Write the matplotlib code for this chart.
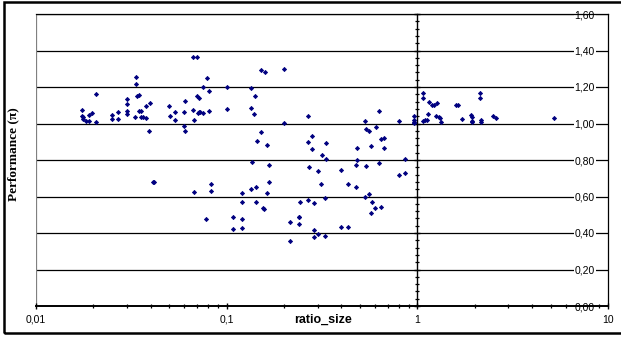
import matplotlib
matplotlib.use("Agg")
import matplotlib.pyplot as plt
from matplotlib.patches import Rectangle
from matplotlib.ticker import FixedLocator, FuncFormatter, LogLocator, NullFormatter

plt.rcParams["font.family"] = ["Liberation Sans", "DejaVu Sans"]

# ratio_size (x, log scale) and performance (pi) values
ratio_size = [
    0.0174, 0.0174, 0.0177, 0.0176, 0.0182, 0.0189, 0.0189, 0.0197, 0.0207, 0.0207,
    0.0249, 0.0251, 0.0269, 0.0269, 0.0299, 0.0300, 0.0300, 0.0299, 0.0335, 0.0335,
    0.0338, 0.0349, 0.0332, 0.0349, 0.0357, 0.0357, 0.0363, 0.0378, 0.0378, 0.0397,
    0.0393, 0.0501, 0.0505, 0.0539, 0.0539, 0.0598, 0.0603, 0.0598, 0.0603, 0.0669,
    0.0675, 0.0665, 0.0698, 0.0698, 0.0714, 0.0714, 0.0726, 0.0755, 0.0705, 0.0755,
    0.0787, 0.0812, 0.0812, 0.1002, 0.1002, 0.0415, 0.0412, 0.0829, 0.0673, 0.0829,
    0.0780,
    0.134, 0.134, 0.141, 0.139, 0.151, 0.159, 0.151, 0.144, 0.163, 0.135,
    0.167, 0.200, 0.200, 0.268, 0.266, 0.279, 0.279, 0.270,
    0.121, 0.120, 0.142, 0.134, 0.142, 0.163, 0.167, 0.155, 0.157, 0.108,
    0.120, 0.108, 0.121, 0.215, 0.241, 0.239, 0.240, 0.239, 0.268, 0.286,
    0.215, 0.286, 0.286, 0.302, 0.300,
    0.632, 0.533, 0.604, 0.538, 0.560, 0.333, 0.316, 0.333, 0.484, 0.569,
    0.647, 0.665, 0.665, 0.484, 0.478, 0.538, 0.626, 0.400, 0.313, 0.433,
    0.477, 0.533, 0.560, 0.326, 0.578, 0.602, 0.647, 0.569, 0.400, 0.433,
    0.326, 0.802, 0.865, 0.802, 0.862, 0.956, 0.964, 0.956, 0.964,
    1.071, 1.071, 1.071, 1.098, 1.124, 1.142, 1.152, 1.199, 1.218, 1.269,
    1.248, 1.300, 1.309, 1.332, 1.602, 1.627, 1.722, 1.914, 1.928, 1.928,
    1.928, 2.124, 2.124, 2.159, 2.159, 2.497, 2.598, 5.194,
]
performance = [
    1.076, 1.039, 1.037, 1.023, 1.015, 1.015, 1.046, 1.056, 1.162, 1.008,
    1.046, 1.023, 1.065, 1.026, 1.105, 1.136, 1.068, 1.052, 1.257, 1.215,
    1.149, 1.156, 1.037, 1.070, 1.068, 1.034, 1.037, 1.030, 1.094, 1.114,
    0.958, 1.094, 1.041, 1.065, 1.019, 1.061, 1.125, 0.986, 0.958, 1.072,
    1.019, 1.362, 1.362, 1.149, 1.140, 1.065, 1.065, 1.056, 1.059, 1.202,
    1.250, 1.178, 1.068, 1.202, 1.077, 0.678, 0.680, 0.671, 0.625, 0.631,
    0.474,
    1.193, 1.087, 1.153, 1.050, 1.294, 1.281, 0.955, 0.903, 0.883, 0.790,
    0.775, 1.301, 1.002, 1.043, 0.896, 0.929, 0.863, 0.763,
    0.617, 0.570, 0.568, 0.639, 0.653, 0.620, 0.682, 0.535, 0.530, 0.488,
    0.474, 0.423, 0.429, 0.463, 0.570, 0.488, 0.485, 0.449, 0.579, 0.565,
    0.356, 0.414, 0.379, 0.394, 0.737,
    1.070, 1.013, 0.982, 0.971, 0.957, 0.892, 0.830, 0.803, 0.865, 0.878,
    0.916, 0.918, 0.867, 0.799, 0.775, 0.766, 0.785, 0.744, 0.669, 0.667,
    0.653, 0.599, 0.612, 0.590, 0.572, 0.535, 0.540, 0.511, 0.433, 0.433,
    0.386, 0.716, 0.727, 1.013, 0.803, 1.041, 1.019, 1.008, 1.004,
    1.165, 1.138, 1.013, 1.017, 1.019, 1.052, 1.116, 1.101, 1.100, 1.114,
    1.041, 1.034, 1.028, 1.008, 1.101, 1.101, 1.023, 1.045, 1.037, 1.015,
    1.008, 1.165, 1.138, 1.017, 1.008, 1.041, 1.030, 1.030,
]

x_ticks = [0.01, 0.1, 1, 10]
x_tick_labels = ["0,01", "0,1", "1", "10"]
y_ticks = [0.0, 0.2, 0.4, 0.6, 0.8, 1.0, 1.2, 1.4, 1.6]

fig = plt.figure(figsize=(6.21, 3.40), dpi=100)
ax = fig.add_axes([36 / 621, 1 - 306 / 340, 572 / 621, 292 / 340])

ax.plot(ratio_size, performance, linestyle="None", marker="D", markersize=2.1,
        color="#000080", markeredgecolor="#000080", markeredgewidth=0.6, zorder=5)

ax.set_xscale("log")
ax.set_xlim(0.01, 10)
ax.set_ylim(0, 1.6)

# horizontal gridlines
for v in y_ticks[1:]:
    ax.axhline(v, color="black", linewidth=0.9, zorder=1)

# plot-area border on the left
ax.axvline(0.01, color="#808080", linewidth=0.9, zorder=1)

# value axis crosses at ratio_size = 1
ax.spines["left"].set_position(("data", 1))
ax.spines["left"].set_linewidth(1.0)
ax.spines["left"].set_zorder(3)
ax.spines["top"].set_linewidth(0.9)
ax.spines["right"].set_linewidth(0.9)
ax.spines["bottom"].set_linewidth(1.4)

ax.yaxis.set_major_locator(FixedLocator(y_ticks))
ax.yaxis.set_minor_locator(FixedLocator([i * 0.04 for i in range(41)]))
ax.yaxis.set_major_formatter(FuncFormatter(lambda v, p: f"{v:.2f}".replace(".", ",")))
ax.tick_params(axis="y", which="major", left=True, right=False, direction="inout",
               length=4, width=1, labelleft=False, labelright=True, pad=-26,
               labelsize=7.5)
ax.tick_params(axis="y", which="minor", left=True, right=False, direction="inout",
               length=3, width=0.9)
for lab in ax.get_yticklabels():
    lab.set_bbox(dict(facecolor="white", edgecolor="none", pad=0.6))

ax.xaxis.set_major_locator(FixedLocator(x_ticks))
ax.set_xticklabels(x_tick_labels)
ax.xaxis.set_minor_locator(LogLocator(base=10, subs=range(2, 10)))
ax.xaxis.set_minor_formatter(NullFormatter())
ax.tick_params(axis="x", which="major", direction="inout", length=4.5, width=1,
               labelsize=7.5, pad=4)
ax.tick_params(axis="x", which="minor", direction="inout", length=3, width=0.9)

ax.set_xlabel("ratio_size", fontsize=9, fontweight="bold")
ax.xaxis.set_label_coords(0.502, -0.028)
ax.set_ylabel("Performance (π)", fontsize=9.5, fontweight="bold",
              family=["Liberation Serif", "DejaVu Serif"])
ax.yaxis.set_label_coords(-0.04, 0.52)
ax.yaxis.label.set_verticalalignment("center")

# chart-area frame
fig.patches.append(Rectangle((3.5 / 621, 1 - 332.5 / 340), 1.0, 331 / 340,
                             transform=fig.transFigure, fill=False,
                             edgecolor="black", linewidth=1.8))

fig.savefig("out.png", dpi=100)
